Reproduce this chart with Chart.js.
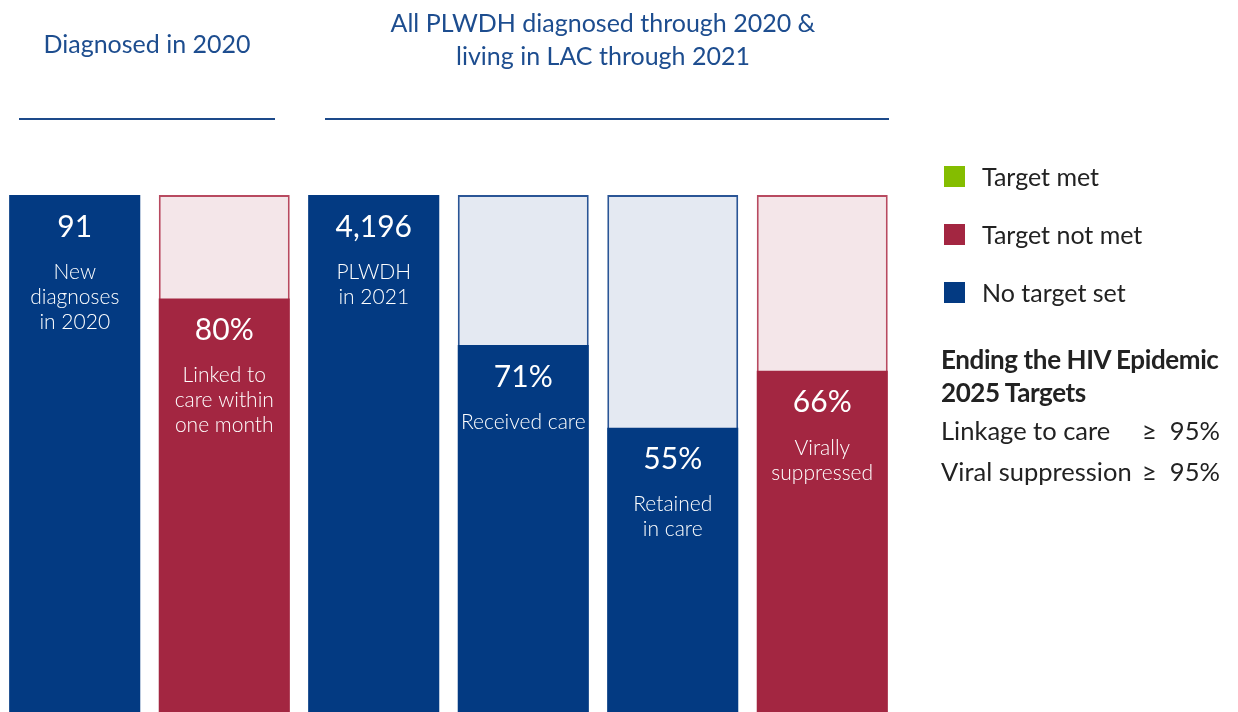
<!DOCTYPE html>
<html>
<head>
<meta charset="utf-8">
<script src="https://cdn.jsdelivr.net/npm/chart.js@4"></script>
<style>
  html, body { margin: 0; padding: 0; background: #fff; }
  body { width: 1238px; height: 712px; position: relative; overflow: hidden; font-family: Lato, "Open Sans", sans-serif; }
  #wrap { position: absolute; left: 0; top: 0; width: 1238px; height: 712px; }
  .head { position: absolute; color: #1d4d8f; font-size: 25px; line-height: 33px; text-align: center; white-space: nowrap; }
  .rule { position: absolute; height: 2px; background: #1d4a8a; }
  .legend { position: absolute; left: 944px; top: 166px; width: 290px; color: #222; font-size: 25px; white-space: nowrap; }
  .legend .row { position: relative; height: 58px; }
  .legend .sw { position: absolute; left: 0; top: 0; width: 21px; height: 21px; }
  .legend .tx { position: absolute; left: 38px; top: -5px; line-height: 30px; }
  .targets { position: absolute; left: 941px; top: 343px; width: 297px; color: #222; font-size: 25.5px; white-space: nowrap; }
  .targets .t { font-weight: bold; font-size: 26px; line-height: 33px; letter-spacing: -0.4px; }
  .targets .r { position: relative; line-height: 40px; margin-top: 1px; }
  .targets .r span.v { position: absolute; left: 201px; top: 0; white-space: pre; }
</style>
</head>
<body>
<div id="wrap"><canvas id="c" width="1238" height="712"></canvas></div>

<div class="head" style="left:19px; width:256px; top:27px;">Diagnosed in 2020</div>
<div class="rule" style="left:19px; width:256px; top:118px;"></div>
<div class="head" style="left:325px; width:556px; top:6px;">All PLWDH diagnosed through 2020 &amp;<br>living in LAC through 2021</div>
<div class="rule" style="left:325px; width:564px; top:118px;"></div>

<div class="legend" id="legend"></div>
<div class="targets" id="targets"></div>

<script>
// data
const categories = ['New diagnoses', 'Linked to care', 'PLWDH', 'Received care', 'Retained in care', 'Virally suppressed'];
const barValues = [100, 80, 100, 71, 55, 66];
const valueLabels = ['91', '80%', '4,196', '71%', '55%', '66%'];
const descLines = [
  ['New', 'diagnoses', 'in 2020'],
  ['Linked to', 'care within', 'one month'],
  ['PLWDH', 'in 2021'],
  ['Received care'],
  ['Retained', 'in care'],
  ['Virally', 'suppressed']
];
const barStatus = ['none', 'notMet', 'none', 'none', 'none', 'notMet'];
const fullValues = [100, 100, 100, 100, 100, 100];

const legendLabels = ['Target met', 'Target not met', 'No target set'];
const legendKeys = ['met', 'notMet', 'none'];
const targetNames = ['Linkage to care', 'Viral suppression'];
const targetValues = ['≥  95%', '≥  95%'];

const colors = {
  met: '#84bd00',
  notMet: '#a32641',
  none: '#033a82'
};
const tints = {
  met: '#edf5dc',
  notMet: '#f4e6e9',
  none: '#e4e9f2'
};
const borders = {
  met: '#8fc21a',
  notMet: '#b84a60',
  none: '#2a5596'
};

// legend + targets
const legendEl = document.getElementById('legend');
legendLabels.forEach((lab, i) => {
  const row = document.createElement('div');
  row.className = 'row';
  row.innerHTML = '<div class="sw" style="background:' + colors[legendKeys[i]] + '"></div><div class="tx">' + lab + '</div>';
  legendEl.appendChild(row);
});
const targetsEl = document.getElementById('targets');
targetsEl.innerHTML = '<div class="t">Ending the HIV Epidemic<br>2025 Targets</div>' +
  targetNames.map((n, i) => '<div class="r">' + n + '<span class="v">' + targetValues[i] + '</span></div>').join('');

// labels inside the bars
const barText = {
  id: 'barText',
  afterDatasetsDraw(chart) {
    const ctx = chart.ctx;
    const meta = chart.getDatasetMeta(0);
    ctx.save();
    ctx.fillStyle = '#ffffff';
    ctx.textAlign = 'center';
    ctx.textBaseline = 'middle';
    meta.data.forEach((bar, i) => {
      ctx.font = '30px Lato, "Open Sans", sans-serif';
      ctx.fillText(valueLabels[i], bar.x, bar.y + 32);
      ctx.font = '300 21px Lato, "Open Sans", sans-serif';
      descLines[i].forEach((line, j) => {
        ctx.fillText(line, bar.x, bar.y + 77 + j * 25);
      });
    });
    ctx.restore();
  }
};

new Chart(document.getElementById('c'), {
  type: 'bar',
  data: {
    labels: categories,
    datasets: [
      {
        label: 'Value',
        data: barValues,
        backgroundColor: barStatus.map(s => colors[s]),
        borderWidth: 0,
        barPercentage: 0.876,
        categoryPercentage: 1,
        grouped: false,
        order: 0
      },
      {
        label: 'Full',
        data: fullValues,
        backgroundColor: barStatus.map(s => tints[s]),
        borderColor: barStatus.map(s => borders[s]),
        borderWidth: 2,
        borderSkipped: false,
        barPercentage: 0.876,
        categoryPercentage: 1,
        grouped: false,
        order: 1
      }
    ]
  },
  options: {
    responsive: false,
    animation: false,
    layout: {
      padding: { top: 195, right: 341, left: 0, bottom: 0 }
    },
    plugins: {
      legend: { display: false },
      tooltip: { enabled: false }
    },
    scales: {
      x: { display: false },
      y: { display: false, min: 0, max: 100 }
    }
  },
  plugins: [barText]
});
</script>
</body>
</html>
